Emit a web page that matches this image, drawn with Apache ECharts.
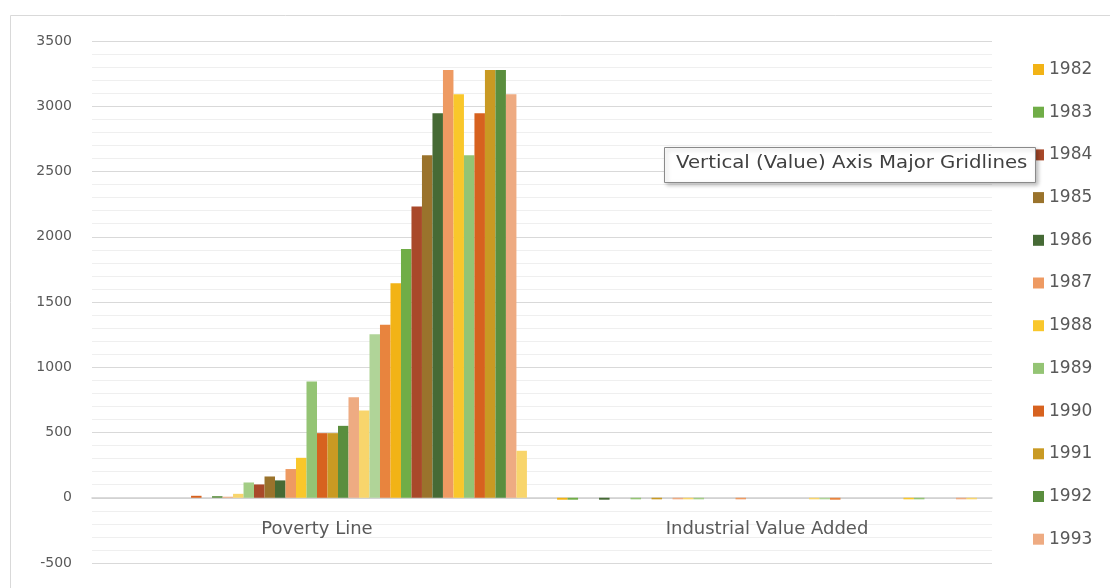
<!DOCTYPE html>
<html>
<head>
<meta charset="utf-8">
<script src="https://cdn.jsdelivr.net/npm/echarts@6/dist/echarts.min.js"></script>
<style>
  html, body { margin: 0; padding: 0; background: #fff; }
  #main { width: 1110px; height: 588px; }
</style>
</head>
<body>
<div id="main"></div>
<script>
var myChart = echarts.init(document.getElementById('main'));

var categories = ['Poverty Line', 'Industrial Value Added'];

var years = [];
for (var y = 1982; y <= 2021; y++) years.push(String(y));

// legend in the picture only shows the first twelve entries
var legendYears = years.slice(0, 12);

// values, one per year
var povertyLine = [
  0, 0, 0, 0, 0, 0, 0, 0, 15, 0,
  12, 8, 30, 117, 102, 163, 133, 220, 306, 891,
  495, 495, 551, 771, 669, 1253, 1325, 1644, 1907, 2231,
  2624, 2946, 3277, 3091, 2624, 2946, 3277, 3277, 3091, 360
];
var industrialValueAdded = [
  -15, -15, 0, 0, -15, 0, 0, -12, 0, -12,
  0, -12, -12, -12, 0, 0, 0, -12, 0, 0,
  0, 0, 0, 0, -12, -12, -15, 0, 0, 0,
  0, 0, 0, -12, -12, 0, 0, 0, -12, -12
];

var colors = [
  '#f2b316', '#70ad47', '#a9492a', '#9a732c', '#466a35', '#ee9a62',
  '#f9c72b', '#94c474', '#d7621f', '#c99a23', '#5a8e3e', '#eeab82',
  '#f8d56c', '#a3cd85', '#a9492a', '#9a732c', '#466a35', '#ee9a62',
  '#f9c72b', '#94c474', '#d7621f', '#c99a23', '#5a8e3e', '#eeab82',
  '#f8d56c', '#b0d498', '#e8843e', '#f2b316', '#70ad47', '#a9492a',
  '#9a732c', '#466a35', '#ee9a62', '#f9c72b', '#94c474', '#d7621f',
  '#c99a23', '#5a8e3e', '#eeab82', '#f8d56c'
];

var series = years.map(function (yr, i) {
  return {
    name: yr,
    type: 'bar',
    barGap: '0%',
    barCategoryGap: '6.7%',
    itemStyle: { color: colors[i] },
    data: [povertyLine[i], industrialValueAdded[i]]
  };
});

var fontFamily = '"DejaVu Sans", sans-serif';

option = {
  animation: false,
  color: colors,
  grid: {
    left: 92,
    right: 118,
    top: 41,
    bottom: 25,
    containLabel: false,
    outerBoundsMode: 'none'
  },
  legend: {
    data: legendYears,
    orient: 'vertical',
    left: 1033,
    top: 61,
    padding: 0,
    itemWidth: 11,
    itemHeight: 11,
    itemGap: 25.7,
    icon: 'rect',
    textStyle: {
      color: '#595959',
      fontSize: 17,
      lineHeight: 17,
      fontFamily: fontFamily
    }
  },
  xAxis: {
    type: 'category',
    data: categories,
    axisLine: { onZero: true, lineStyle: { color: '#d0d0d0', width: 1.5 } },
    axisTick: { show: false },
    axisLabel: {
      color: '#595959',
      fontSize: 18,
      margin: -43,
      fontFamily: fontFamily
    }
  },
  yAxis: {
    type: 'value',
    min: -500,
    max: 3500,
    interval: 500,
    axisLine: { show: false },
    axisTick: { show: false },
    axisLabel: {
      color: '#595959',
      fontSize: 14,
      margin: 20,
      fontFamily: fontFamily,
      formatter: function (v) { return String(v); }
    },
    splitLine: { lineStyle: { color: '#d9d9d9' } },
    minorTick: { show: false, splitNumber: 5 },
    minorSplitLine: { show: true, lineStyle: { color: '#efefef' } }
  },
  graphic: [
    {
      type: 'rect',
      left: 8,
      top: 13,
      shape: { width: 1200, height: 700 },
      style: { fill: 'none', stroke: '#d9d9d9', lineWidth: 1 },
      silent: true,
      z: -10
    },
    {
      type: 'rect',
      left: 664,
      top: 147,
      z: 100,
      shape: { width: 371, height: 35 },
      style: {
        fill: '#ffffff',
        stroke: '#8a8a8a',
        lineWidth: 1,
        shadowBlur: 4,
        shadowOffsetX: 2,
        shadowOffsetY: 2,
        shadowColor: 'rgba(0,0,0,0.25)'
      }
    },
    {
      type: 'text',
      x: 676,
      y: 155,
      z: 101,
      scaleX: 1.16,
      style: {
        text: 'Vertical (Value) Axis Major Gridlines',
        fill: '#404040',
        fontSize: 17,
        fontFamily: fontFamily
      }
    }
  ],
  series: series
};

myChart.setOption(option);
</script>
</body>
</html>
